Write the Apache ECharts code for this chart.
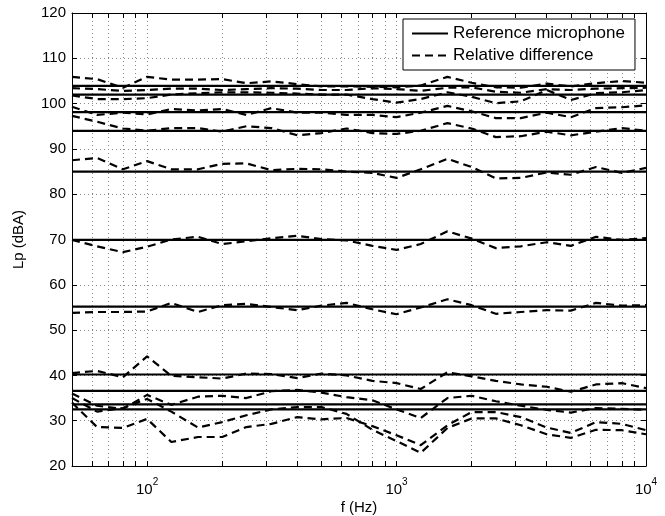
<!DOCTYPE html>
<html>
<head>
<meta charset="utf-8">
<script src="https://cdn.jsdelivr.net/npm/echarts@6/dist/echarts.min.js"></script>
<style>
  html, body { margin: 0; padding: 0; background: #fff; }
  #chart { width: 665px; height: 516px; }
</style>
</head>
<body>
<div id="chart"></div>
<script>
// One-third octave band centre frequencies (Hz)
const freqs = [50, 63, 80, 100, 125, 160, 200, 250, 315, 400, 500, 630, 800, 1000,
               1250, 1600, 2000, 2500, 3150, 4000, 5000, 6300, 8000, 10000];

// Reference microphone levels, Lp (dBA)
const refLevels = [103.9, 102.0, 98.1, 94.0, 85.0, 69.9, 55.2, 40.2, 36.6, 33.6, 32.5];

// Relative difference curves, Lp (dBA) per band
const diff105 = [105.9, 105.4, 103.5, 105.9, 105.3, 105.3, 105.4, 104.5, 104.9, 104.3, 103.8, 103.8,
                 103.7, 103.6, 104.0, 105.9, 104.6, 103.6, 103.5, 104.4, 103.8, 104.5, 105.0, 104.6];
const diff103 = [103.4, 103.2, 102.8, 103.0, 103.3, 103.3, 103.0, 103.2, 103.4, 103.3, 103.0, 103.0,
                 103.4, 103.2, 102.8, 103.5, 103.6, 102.6, 102.4, 103.2, 103.0, 103.3, 103.4, 103.5];
const diff101 = [101.8, 101.0, 101.0, 101.2, 102.0, 102.3, 102.5, 102.5, 102.4, 102.2, 102.0, 102.0,
                 101.0, 100.2, 101.0, 102.5, 101.5, 100.1, 100.5, 103.0, 100.8, 102.3, 102.5, 103.0];
const diff98  = [99.3, 97.5, 98.0, 97.6, 98.8, 98.5, 98.8, 97.5, 99.0, 98.0, 98.0, 97.5,
                 97.5, 97.0, 98.0, 99.5, 98.3, 96.8, 96.8, 98.0, 97.0, 99.0, 99.2, 99.6];
const diff94  = [97.3, 96.0, 94.5, 94.0, 94.6, 94.6, 93.8, 95.0, 94.6, 93.0, 93.5, 94.5,
                 93.5, 93.3, 94.0, 95.7, 94.5, 92.6, 92.8, 93.8, 93.0, 93.8, 94.6, 94.0];
const diff85  = [87.5, 88.0, 85.5, 87.3, 85.5, 85.5, 86.7, 86.8, 85.3, 85.6, 85.5, 85.0,
                 84.7, 83.6, 85.5, 87.8, 86.0, 83.5, 83.6, 84.8, 84.3, 86.0, 84.7, 85.8];
const diff70  = [69.9, 68.5, 67.2, 68.4, 70.0, 70.6, 69.0, 69.6, 70.3, 70.8, 70.1, 69.8,
                 68.6, 67.7, 69.0, 71.8, 70.2, 68.1, 68.5, 69.4, 68.6, 70.6, 69.9, 70.3];
const diff55  = [53.8, 54.0, 54.0, 54.1, 56.0, 54.0, 55.5, 55.8, 55.1, 54.4, 55.4, 56.0,
                 54.6, 53.5, 55.0, 56.8, 55.5, 53.6, 54.0, 54.4, 54.3, 56.0, 55.4, 55.5];
const diff40  = [40.5, 41.0, 39.6, 44.2, 39.9, 39.6, 39.3, 40.4, 40.3, 39.4, 40.4, 40.0,
                 38.8, 38.3, 37.0, 40.7, 39.8, 38.8, 38.0, 37.5, 36.4, 38.0, 38.3, 37.2];
const diff36  = [36.0, 33.3, 32.6, 35.7, 33.5, 35.3, 35.5, 35.0, 36.5, 36.8, 36.2, 35.2,
                 34.5, 32.5, 30.6, 35.0, 35.5, 34.3, 33.3, 32.4, 31.8, 32.8, 32.6, 32.4];
const diff33  = [35.0, 32.0, 32.8, 34.8, 32.0, 28.5, 29.7, 31.2, 32.5, 33.0, 33.0, 31.5,
                 28.0, 25.5, 22.9, 28.4, 30.5, 30.5, 29.0, 27.0, 26.2, 28.0, 27.9, 27.0];
const diff32  = [34.0, 28.6, 28.4, 30.4, 25.3, 26.4, 26.4, 28.6, 29.3, 30.8, 30.3, 30.6,
                 28.8, 26.8, 24.6, 29.0, 31.9, 31.9, 30.8, 28.5, 27.3, 29.7, 29.3, 27.9];

const diffCurves = [diff105, diff103, diff101, diff98, diff94, diff85, diff70, diff55,
                    diff40, diff36, diff33, diff32];

// Axis ticks / labels
const gridFreqs = [60, 70, 80, 90, 100, 200, 300, 400, 500, 600, 700, 800, 900,
                   1000, 2000, 3000, 4000, 5000, 6000, 7000, 8000, 9000];
const decadeLabels = [100, 1000, 10000];

const FONT = "'Liberation Sans', Arial, Helvetica, sans-serif";
const REF_NAME = 'Reference microphone';
const DIFF_NAME = 'Relative difference';

const series = [];
refLevels.forEach(function (lv) {
  series.push({
    type: 'line', name: REF_NAME,
    data: freqs.map(function (f) { return [f, lv]; }),
    symbol: 'none', silent: true,
    itemStyle: { color: '#000' },
    lineStyle: { color: '#000', width: 2.2, type: 'solid' },
    xAxisIndex: 0, yAxisIndex: 0, z: 3
  });
});
diffCurves.forEach(function (vals) {
  series.push({
    type: 'line', name: DIFF_NAME,
    data: freqs.map(function (f, i) { return [f, vals[i]]; }),
    symbol: 'none', silent: true,
    itemStyle: { color: '#000' },
    lineStyle: { color: '#000', width: 2.2, type: [8, 5] },
    xAxisIndex: 0, yAxisIndex: 0, z: 3
  });
});

const dotted = { color: '#8a8a8a', width: 1, type: [1, 3] };

const option = {
  animation: false,
  backgroundColor: '#fff',
  textStyle: { fontFamily: FONT },
  grid: { left: 72, right: 19, top: 13, bottom: 50, containLabel: false, outerBoundsMode: 'none' },
  legend: {
    orient: 'vertical', left: 403, top: 19,
    data: [REF_NAME, DIFF_NAME],
    backgroundColor: '#fff', borderColor: '#000', borderWidth: 1, borderRadius: 0,
    padding: [6, 10, 6, 8], itemWidth: 36, itemHeight: 14, itemGap: 5,
    itemStyle: { opacity: 0 },
    textStyle: { fontFamily: FONT, fontSize: 17, color: '#000' },
    selectedMode: false
  },
  xAxis: [{
    type: 'log', logBase: 10, min: 50, max: 10000, position: 'bottom',
    name: 'f (Hz)', nameLocation: 'middle', nameGap: 34, nameMoveOverlap: false,
    nameTextStyle: { fontFamily: FONT, fontSize: 15, color: '#000' },
    axisLine: { show: true, lineStyle: { color: '#000', width: 1 } },
    axisTick: { show: true, inside: true, length: 5, customValues: gridFreqs,
                lineStyle: { color: '#000', width: 1 } },
    axisLabel: {
      show: true, customValues: decadeLabels, margin: 11,
      formatter: function (v) { return '{b|10}{s|' + Math.round(Math.log10(v)) + '}'; },
      rich: {
        b: { fontFamily: FONT, fontSize: 15, color: '#000', lineHeight: 20, verticalAlign: 'bottom' },
        s: { fontFamily: FONT, fontSize: 10, color: '#000', lineHeight: 12, verticalAlign: 'top' }
      }
    },
    splitLine: { show: true, lineStyle: dotted }
  }, {
    type: 'log', logBase: 10, min: 50, max: 10000, position: 'top',
    axisLine: { show: true, lineStyle: { color: '#000', width: 1 } },
    axisTick: { show: true, inside: true, length: 5, customValues: gridFreqs,
                lineStyle: { color: '#000', width: 1 } },
    axisLabel: { show: false },
    splitLine: { show: false }
  }],
  yAxis: [{
    type: 'value', min: 20, max: 120, interval: 10, position: 'left',
    name: 'Lp (dBA)', nameLocation: 'middle', nameGap: 46, nameMoveOverlap: false,
    nameTextStyle: { fontFamily: FONT, fontSize: 15, color: '#000' },
    axisLine: { show: true, lineStyle: { color: '#000', width: 1 } },
    axisTick: { show: true, inside: true, length: 5, lineStyle: { color: '#000', width: 1 } },
    axisLabel: { show: true, margin: 6, fontFamily: FONT, fontSize: 15, color: '#000' },
    splitLine: { show: true, lineStyle: dotted }
  }, {
    type: 'value', min: 20, max: 120, interval: 10, position: 'right',
    axisLine: { show: true, lineStyle: { color: '#000', width: 1 } },
    axisTick: { show: true, inside: true, length: 5, lineStyle: { color: '#000', width: 1 } },
    axisLabel: { show: false },
    splitLine: { show: false }
  }],
  series: series
};

const chart = echarts.init(document.getElementById('chart'), null, { renderer: 'canvas' });
chart.setOption(option);
</script>
</body>
</html>
